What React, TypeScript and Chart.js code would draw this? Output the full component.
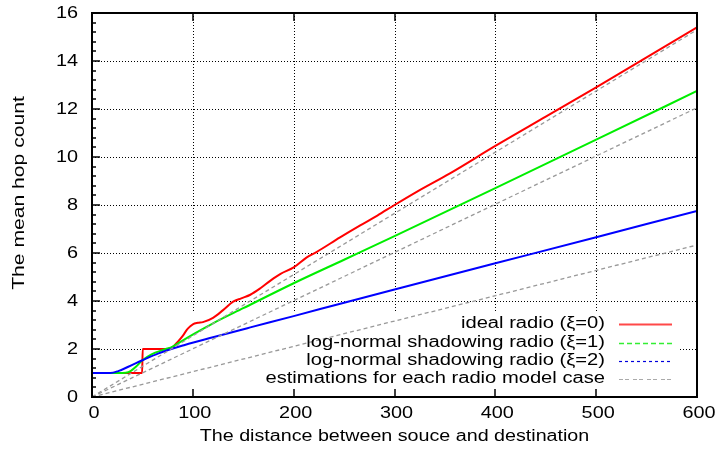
import { useEffect, useRef } from 'react';
import { Chart, registerables } from 'chart.js';

Chart.register(...registerables);

// ---- data ----
const redX = [0, 49.7, 50.3, 75, 80, 85, 90, 95, 100, 105, 110, 120, 130, 140, 148, 157, 167, 177, 187, 200, 213, 223, 246, 266, 283, 300, 322, 355, 400, 450, 500, 550, 600];
const redY = [1, 1, 2, 2, 2.08, 2.3, 2.55, 2.85, 3.03, 3.09, 3.12, 3.3, 3.62, 3.97, 4.11, 4.26, 4.53, 4.85, 5.13, 5.4, 5.82, 6.05, 6.65, 7.15, 7.56, 8.0, 8.55, 9.32, 10.46, 11.68, 12.9, 14.15, 15.4];

const greenX = [0, 30, 36, 43, 50, 59, 72, 80, 89, 102, 120, 150, 200, 250, 300, 400, 500, 600];
const greenY = [1, 1, 1.03, 1.24, 1.53, 1.78, 1.98, 2.1, 2.33, 2.65, 3.07, 3.7, 4.74, 5.72, 6.7, 8.7, 10.72, 12.75];

const blueX = [0, 18, 26, 36, 50, 66, 92, 120, 157, 200, 250, 300, 400, 500, 600];
const blueY = [1, 1, 1.08, 1.26, 1.53, 1.82, 2.17, 2.49, 2.9, 3.37, 3.93, 4.48, 5.57, 6.66, 7.75];

const estX = [0, 600];
const estRed = [0, 15.3];
const estGreen = [0, 12.05];
const estBlue = [0, 6.33];

const legendLabels = [
  'ideal radio (\u03BE=0)',
  'log-normal shadowing radio (\u03BE=1)',
  'log-normal shadowing radio (\u03BE=2)',
  'estimations for each radio model case',
];
const xTitle = 'The distance between souce and destination';
const yTitle = 'The mean hop count';

const X_MIN = 0, X_MAX = 600, X_STEP = 100;
const Y_MIN = 0, Y_MAX = 16, Y_STEP = 2, Y_MINOR = 0.4;

const FONT = '"Liberation Sans", Arial, Helvetica, sans-serif';

const zip = (xs: number[], ys: number[]) => xs.map((x, i) => ({ x, y: ys[i] }));

function stretchText(
  ctx: CanvasRenderingContext2D,
  text: string,
  x: number,
  y: number,
  size: number,
  sx: number,
  align: CanvasTextAlign,
  rot = 0
) {
  ctx.save();
  ctx.translate(x, y);
  ctx.rotate(rot);
  ctx.scale(sx, 1);
  ctx.font = `${size}px ${FONT}`;
  ctx.textAlign = align;
  ctx.textBaseline = 'middle';
  ctx.fillStyle = '#000';
  ctx.fillText(text, 0, 0);
  ctx.restore();
}

const legendStyles = [
  { color: 'rgba(255,40,40,0.85)', dash: [] as number[], width: 2 },
  { color: '#33ee33', dash: [5, 3], width: 1.5 },
  { color: '#0000dd', dash: [3, 3], width: 1.2 },
  { color: '#aaaaaa', dash: [4, 2, 4, 4], width: 1.2 },
];

const FS = 16;

const paperPlugin = {
  id: 'paper',
  beforeDatasetsDraw(chart: any) {
    const { ctx, chartArea: a, scales } = chart;
    const xs = scales.x, ys = scales.y;
    ctx.save();
    ctx.strokeStyle = '#000';
    ctx.lineWidth = 1;
    ctx.setLineDash([1, 2]);
    for (const t of xs.ticks) {
      if (t.value <= X_MIN || t.value >= X_MAX) continue;
      const px = Math.round(xs.getPixelForValue(t.value)) + 0.5;
      ctx.beginPath();
      ctx.moveTo(px, a.top);
      ctx.lineTo(px, a.bottom);
      ctx.stroke();
    }
    for (const t of ys.ticks) {
      if (t.value <= Y_MIN || t.value >= Y_MAX) continue;
      const py = Math.round(ys.getPixelForValue(t.value)) + 0.5;
      ctx.beginPath();
      ctx.moveTo(a.left, py);
      ctx.lineTo(a.right, py);
      ctx.stroke();
    }
    ctx.setLineDash([]);
    // opaque key box
    ctx.fillStyle = '#fff';
    ctx.fillRect(a.left + 51, a.bottom - 86, a.right - 17 - (a.left + 51), 86);
    ctx.restore();
  },
  afterDatasetsDraw(chart: any) {
    const { ctx, chartArea: a, scales } = chart;
    const xs = scales.x, ys = scales.y;
    ctx.save();
    ctx.strokeStyle = '#000';
    ctx.lineWidth = 1.5;
    for (const t of xs.ticks) {
      const px = Math.round(xs.getPixelForValue(t.value));
      ctx.beginPath();
      ctx.moveTo(px, a.bottom);
      ctx.lineTo(px, a.bottom - 8);
      ctx.moveTo(px, a.top);
      ctx.lineTo(px, a.top + 8);
      ctx.stroke();
    }
    for (const t of ys.ticks) {
      const py = Math.round(ys.getPixelForValue(t.value));
      ctx.beginPath();
      ctx.moveTo(a.left, py);
      ctx.lineTo(a.left + 8, py);
      ctx.stroke();
    }
    const nMinor = Math.round((Y_MAX - Y_MIN) / Y_MINOR);
    const per = Math.round(Y_STEP / Y_MINOR);
    for (let k = 1; k < nMinor; k++) {
      if (k % per === 0) continue;
      const py = Math.round(ys.getPixelForValue(Y_MIN + k * Y_MINOR));
      ctx.beginPath();
      ctx.moveTo(a.left, py);
      ctx.lineTo(a.left + 4, py);
      ctx.stroke();
    }
    ctx.lineWidth = 2;
    ctx.strokeRect(a.left, a.top, a.right - a.left, a.bottom - a.top);
    ctx.restore();
  },
  afterDraw(chart: any) {
    const { ctx, chartArea: a, scales } = chart;
    const xs = scales.x, ys = scales.y;
    for (const t of xs.ticks) {
      const px = xs.getPixelForValue(t.value);
      stretchText(ctx, String(t.value), px + 2, a.bottom + 17, FS, 1.24, 'center');
    }
    for (const t of ys.ticks) {
      const py = ys.getPixelForValue(t.value);
      stretchText(ctx, String(t.value), a.left - 14, py + 1, FS, 1.24, 'right');
    }
    stretchText(ctx, xTitle, (a.left + a.right) / 2, a.bottom + 40, FS, 1.23, 'center');
    stretchText(ctx, yTitle, 20, 193, FS, 1.32, 'center', -Math.PI / 2);
    const rows = [a.bottom - 73, a.bottom - 54, a.bottom - 36, a.bottom - 18];
    legendLabels.forEach((lab, i) => {
      const y = rows[i];
      stretchText(ctx, lab, a.right - 92, y, FS, 1.26, 'right');
      const st = legendStyles[i];
      ctx.save();
      ctx.strokeStyle = st.color;
      ctx.lineWidth = st.width;
      ctx.setLineDash(st.dash);
      ctx.beginPath();
      ctx.moveTo(a.right - 78, y + 0.5);
      ctx.lineTo(a.right - 25, y + 0.5);
      ctx.stroke();
      ctx.restore();
    });
  },
};

export default function App() {
  const ref = useRef<HTMLCanvasElement>(null);
  useEffect(() => {
    if (!ref.current) return;
    const common = { pointRadius: 0, fill: false, borderJoinStyle: 'round' as const };
    const chart = new Chart(ref.current, {
      type: 'line',
      data: {
        datasets: [
          { ...common, label: legendLabels[0], data: zip(redX, redY), borderColor: '#ff0000', borderWidth: 2, cubicInterpolationMode: 'monotone', order: 6 },
          { ...common, label: legendLabels[1], data: zip(greenX, greenY), borderColor: '#00ee00', borderWidth: 2, cubicInterpolationMode: 'monotone', order: 5 },
          { ...common, label: legendLabels[2], data: zip(blueX, blueY), borderColor: '#0000ff', borderWidth: 2, cubicInterpolationMode: 'monotone', order: 4 },
          { ...common, label: legendLabels[3], data: zip(estX, estRed), borderColor: '#999999', borderWidth: 1.3, borderDash: [4, 3], order: 3 },
          { ...common, label: '', data: zip(estX, estGreen), borderColor: '#999999', borderWidth: 1.3, borderDash: [4, 3], order: 2 },
          { ...common, label: '', data: zip(estX, estBlue), borderColor: '#999999', borderWidth: 1.3, borderDash: [4, 3], order: 1 },
        ],
      },
      options: {
        animation: false,
        responsive: false,
        devicePixelRatio: 1,
        layout: { padding: { left: 0, right: 22, top: 13, bottom: 0 } },
        plugins: { legend: { display: false }, tooltip: { enabled: false } },
        events: [],
        scales: {
          x: {
            type: 'linear',
            min: X_MIN,
            max: X_MAX,
            ticks: { stepSize: X_STEP, display: false },
            grid: { display: false },
            border: { display: false },
            afterFit: (s: any) => { s.height = 55; },
          },
          y: {
            type: 'linear',
            min: Y_MIN,
            max: Y_MAX,
            ticks: { stepSize: Y_STEP, display: false },
            grid: { display: false },
            border: { display: false },
            afterFit: (s: any) => { s.width = 92; },
          },
        },
      },
      plugins: [paperPlugin],
    });
    return () => chart.destroy();
  }, []);
  return (
    <div style={{ position: 'absolute', left: 0, top: 0, width: 719, height: 452, background: '#fff' }}>
      <canvas ref={ref} width={719} height={452} style={{ display: 'block' }} />
    </div>
  );
}
